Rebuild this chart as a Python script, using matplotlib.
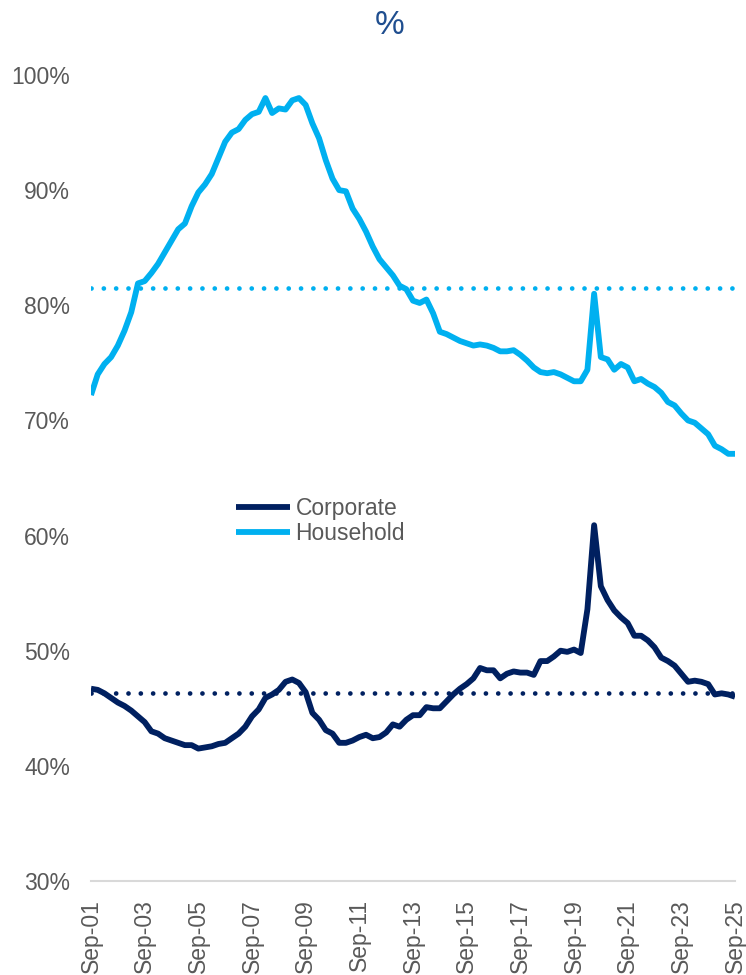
import matplotlib.pyplot as plt

plt.rcParams['font.family'] = ['Liberation Sans', 'DejaVu Sans']

# quarterly ratios, Sep-01 .. Sep-25 (97 quarters)
household = [72.2, 74.0, 74.9, 75.5, 76.5, 77.8, 79.4, 81.9, 82.1, 82.8,
             83.6, 84.6, 85.6, 86.6, 87.1, 88.6, 89.8, 90.5, 91.4, 92.8,
             94.2, 95.0, 95.3, 96.1, 96.6, 96.8, 98.0, 96.7, 97.1, 97.0,
             97.8, 98.0, 97.4, 95.8, 94.5, 92.6, 91.0, 90.0, 89.9, 88.4,
             87.5, 86.4, 85.1, 84.0, 83.3, 82.6, 81.7, 81.4, 80.4, 80.2,
             80.5, 79.3, 77.7, 77.5, 77.2, 76.9, 76.7, 76.5, 76.6, 76.5,
             76.3, 76.0, 76.0, 76.1, 75.7, 75.2, 74.6, 74.2, 74.1, 74.2,
             74.0, 73.7, 73.4, 73.4, 74.4, 81.0, 75.5, 75.3, 74.4, 74.9,
             74.6, 73.4, 73.6, 73.2, 72.9, 72.4, 71.6, 71.3, 70.6, 70.0,
             69.8, 69.3, 68.8, 67.8, 67.5, 67.1, 67.1]
corporate = [46.7, 46.6, 46.3, 45.9, 45.5, 45.2, 44.8, 44.3, 43.8, 43.0,
             42.8, 42.4, 42.2, 42.0, 41.8, 41.8, 41.5, 41.6, 41.7, 41.9,
             42.0, 42.4, 42.8, 43.4, 44.3, 44.9, 45.9, 46.2, 46.6, 47.3,
             47.5, 47.2, 46.4, 44.6, 44.0, 43.1, 42.8, 42.0, 42.0, 42.2,
             42.5, 42.7, 42.4, 42.5, 42.9, 43.6, 43.4, 44.0, 44.4, 44.4,
             45.1, 45.0, 45.0, 45.6, 46.2, 46.7, 47.1, 47.6, 48.5, 48.3,
             48.3, 47.6, 48.0, 48.2, 48.1, 48.1, 47.9, 49.1, 49.1, 49.5,
             50.0, 49.9, 50.1, 49.8, 53.6, 60.9, 55.6, 54.4, 53.5, 52.9,
             52.4, 51.3, 51.3, 50.9, 50.3, 49.4, 49.1, 48.7, 48.0, 47.3,
             47.4, 47.3, 47.1, 46.2, 46.3, 46.2, 46.0]
household_avg = 81.5
corporate_avg = 46.3

tick_labels = ["Sep-01", "Sep-03", "Sep-05", "Sep-07", "Sep-09", "Sep-11",
               "Sep-13", "Sep-15", "Sep-17", "Sep-19", "Sep-21", "Sep-23",
               "Sep-25"]
y_ticks = [30, 40, 50, 60, 70, 80, 90, 100]

navy = "#002060"
sky = "#00B0F0"
grey = "#595959"

x = list(range(len(household)))

fig = plt.figure(figsize=(7.46, 9.75), dpi=100)
ax = fig.add_axes([91 / 746, 1 - 881 / 975, 644 / 746, 806 / 975])

ax.plot(x, corporate, color=navy, lw=4.2, solid_joinstyle="round",
        solid_capstyle="butt", label="Corporate")
ax.plot(x, household, color=sky, lw=4.2, solid_joinstyle="round",
        solid_capstyle="butt", label="Household")

# long-run averages as dotted lines
dots = (0, (0.01, 2.6))
ax.plot(x, [household_avg] * len(x), color=sky, lw=3.4, linestyle=dots,
        dash_capstyle="round")
ax.plot(x, [corporate_avg] * len(x), color=navy, lw=3.4, linestyle=dots,
        dash_capstyle="round")

ax.set_xlim(0, len(x) - 1)
ax.set_ylim(30, 100)
ax.set_xticks(range(0, len(x), 8))
ax.set_xticklabels(tick_labels, rotation=90, fontsize=16.5, color=grey)
ax.set_yticks(y_ticks)
ax.set_yticklabels([f"{v}%" for v in y_ticks], fontsize=16.5, color=grey)
ax.tick_params(axis="both", length=0)
ax.tick_params(axis="y", pad=15)
ax.tick_params(axis="x", pad=13)

for side in ["top", "right", "left"]:
    ax.spines[side].set_visible(False)
ax.spines["bottom"].set_color("#D9D9D9")
ax.spines["bottom"].set_linewidth(1.5)

fig.text(390 / 746, 1 - 25 / 975, "%", ha="center", va="center",
         fontsize=24, color="#1F4E8F")

leg = ax.legend(loc="upper left", bbox_to_anchor=(236 / 746, 1 - 497 / 975),
                bbox_transform=fig.transFigure, frameon=False, fontsize=16.5,
                handlelength=2.35, handletextpad=0.25, labelspacing=0.1,
                borderpad=0, borderaxespad=0)
for t in leg.get_texts():
    t.set_color(grey)

fig.savefig("out.png", dpi=100)
